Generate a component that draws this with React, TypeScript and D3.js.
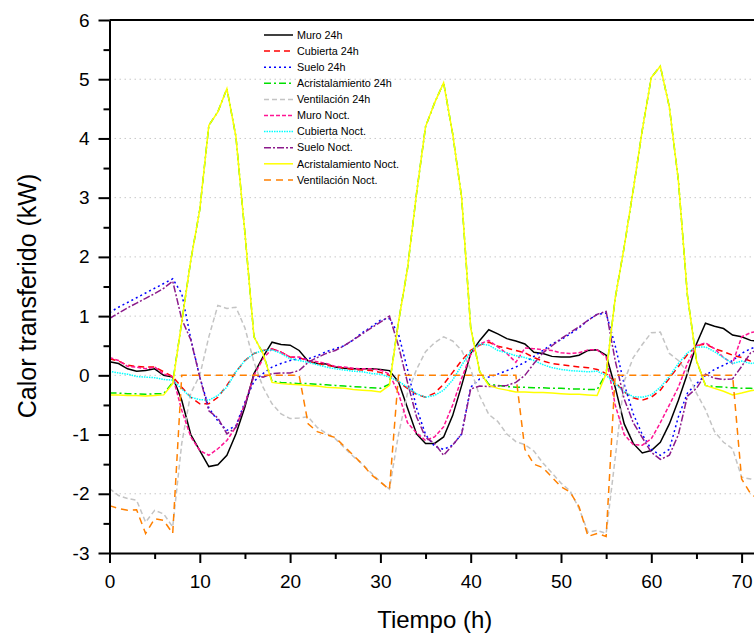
import { useEffect, useRef } from "react";
import * as d3 from "d3";

// hourly values (kW), h = 0..72
const muro24 = [0.23,0.2,0.11,0.07,0.08,0.11,0.0,-0.03,-0.42,-1.0,-1.27,-1.54,-1.51,-1.35,-0.99,-0.53,0.03,0.31,0.56,0.52,0.51,0.42,0.24,0.2,0.19,0.14,0.12,0.11,0.11,0.11,0.1,0.08,-0.11,-0.55,-0.99,-1.15,-1.15,-1.04,-0.68,-0.17,0.37,0.59,0.77,0.7,0.62,0.58,0.53,0.39,0.37,0.32,0.31,0.31,0.34,0.42,0.43,0.34,-0.2,-0.82,-1.15,-1.31,-1.27,-1.13,-0.82,-0.42,0.03,0.53,0.88,0.83,0.79,0.68,0.65,0.59,0.57];
const cubierta24 = [0.28,0.24,0.17,0.15,0.14,0.14,0.06,-0.02,-0.2,-0.37,-0.48,-0.48,-0.37,-0.17,0.06,0.25,0.37,0.42,0.45,0.39,0.31,0.3,0.24,0.2,0.17,0.15,0.12,0.1,0.09,0.08,0.05,0.0,-0.11,-0.22,-0.32,-0.37,-0.3,-0.15,0.05,0.25,0.42,0.51,0.56,0.49,0.46,0.42,0.38,0.3,0.24,0.2,0.18,0.16,0.14,0.13,0.1,0.03,-0.12,-0.28,-0.38,-0.42,-0.37,-0.25,-0.05,0.15,0.35,0.5,0.53,0.45,0.4,0.34,0.3,0.24,0.2];
const suelo24 = [1.06,1.15,1.23,1.31,1.39,1.47,1.55,1.63,1.38,0.62,-0.03,-0.55,-0.77,-0.93,-0.85,-0.45,-0.1,0.03,0.14,0.2,0.25,0.28,0.28,0.33,0.4,0.45,0.5,0.6,0.72,0.82,0.93,0.96,0.7,0.1,-0.55,-1.0,-1.2,-1.25,-1.18,-0.99,-0.2,-0.06,-0.03,0.02,0.08,0.14,0.22,0.32,0.42,0.53,0.6,0.7,0.8,0.93,1.03,1.05,0.5,-0.15,-0.65,-1.0,-1.25,-1.35,-1.25,-0.7,-0.3,-0.14,0.0,0.1,0.17,0.25,0.37,0.45,0.5];
const acrist24 = [-0.3,-0.3,-0.31,-0.31,-0.32,-0.31,-0.31,-0.12,0.9,1.94,2.8,4.22,4.45,4.84,4.03,2.4,0.65,0.37,-0.1,-0.12,-0.13,-0.14,-0.14,-0.15,-0.16,-0.17,-0.18,-0.19,-0.2,-0.21,-0.22,-0.15,0.9,1.8,3.07,4.2,4.6,4.94,4.08,3.0,0.8,0.06,-0.15,-0.17,-0.19,-0.2,-0.2,-0.21,-0.21,-0.22,-0.22,-0.23,-0.23,-0.24,-0.24,0.03,1.3,2.17,3.13,4.14,5.03,5.22,4.53,3.29,1.35,0.25,-0.17,-0.19,-0.2,-0.21,-0.22,-0.22,-0.23];
const vent24 = [-1.91,-2.03,-2.08,-2.11,-2.48,-2.28,-2.34,-2.56,-1.15,-0.3,0.0,0.65,1.18,1.13,1.15,0.8,0.22,-0.2,-0.48,-0.65,-0.73,-0.72,-0.7,-0.88,-0.98,-1.07,-1.22,-1.37,-1.5,-1.65,-1.8,-1.92,-1.0,-0.3,0.1,0.4,0.55,0.65,0.58,0.42,0.1,-0.35,-0.66,-0.78,-0.99,-1.12,-1.17,-1.28,-1.48,-1.65,-1.82,-1.95,-2.25,-2.65,-2.62,-2.67,-1.4,-0.1,0.3,0.52,0.72,0.73,0.37,0.25,0.05,-0.3,-0.58,-0.95,-1.13,-1.24,-1.72,-1.75,-1.78];
const muroNoct = [0.3,0.25,0.15,0.14,0.11,0.14,0.02,-0.02,-0.59,-1.04,-1.27,-1.35,-1.24,-1.1,-0.87,-0.48,0.0,0.28,0.45,0.39,0.31,0.31,0.25,0.23,0.2,0.15,0.14,0.12,0.11,0.11,0.09,0.02,-0.3,-0.8,-0.97,-1.1,-1.04,-0.87,-0.5,-0.05,0.35,0.53,0.59,0.48,0.37,0.22,0.46,0.45,0.43,0.42,0.38,0.37,0.38,0.43,0.43,0.31,-0.5,-1.0,-1.17,-1.18,-1.07,-0.8,-0.5,-0.2,0.2,0.5,0.55,0.45,0.3,0.2,0.65,0.72,0.75];
const cubiertaNoct = [0.07,0.04,0.02,-0.02,-0.03,-0.04,-0.07,-0.08,-0.23,-0.37,-0.41,-0.42,-0.34,-0.2,0.06,0.25,0.37,0.42,0.43,0.37,0.28,0.25,0.22,0.18,0.14,0.11,0.09,0.07,0.06,0.03,0.02,-0.03,-0.1,-0.2,-0.31,-0.37,-0.34,-0.25,-0.08,0.17,0.4,0.53,0.51,0.42,0.38,0.33,0.3,0.25,0.18,0.13,0.1,0.08,0.07,0.06,0.07,0.0,-0.14,-0.28,-0.36,-0.37,-0.33,-0.2,-0.02,0.2,0.38,0.48,0.48,0.4,0.3,0.2,0.24,0.2,0.22];
const sueloNoct = [0.96,1.05,1.14,1.22,1.3,1.38,1.47,1.59,0.95,0.6,-0.03,-0.6,-0.72,-0.99,-0.88,-0.5,0.0,-0.03,0.03,0.04,0.04,0.08,0.22,0.3,0.37,0.42,0.5,0.6,0.7,0.8,0.9,1.0,0.5,-0.12,-0.7,-1.05,-1.15,-1.35,-1.18,-0.99,-0.23,-0.18,-0.19,-0.18,-0.17,-0.12,0.0,0.2,0.38,0.5,0.62,0.72,0.82,0.93,1.03,1.08,0.25,-0.4,-0.8,-1.05,-1.3,-1.42,-1.35,-1.0,-0.35,-0.22,0.02,-0.05,-0.07,-0.06,0.15,0.38,0.45];
const acristNoct = [-0.33,-0.33,-0.34,-0.34,-0.35,-0.34,-0.33,-0.14,0.9,1.94,2.8,4.22,4.45,4.84,4.03,2.4,0.65,0.37,-0.12,-0.14,-0.15,-0.16,-0.17,-0.18,-0.2,-0.21,-0.22,-0.24,-0.25,-0.26,-0.28,-0.17,0.9,1.8,3.07,4.2,4.6,4.94,4.08,3.0,0.8,0.06,-0.17,-0.22,-0.25,-0.28,-0.28,-0.29,-0.29,-0.3,-0.31,-0.32,-0.32,-0.33,-0.34,0.03,1.3,2.17,3.13,4.14,5.03,5.22,4.53,3.29,1.35,0.25,-0.17,-0.22,-0.27,-0.33,-0.3,-0.26,-0.24];
const ventNoct = [-2.2,-2.25,-2.28,-2.27,-2.67,-2.42,-2.45,-2.67,0,0,0,0,0,0,0,0,0,0,0,0,0,0,-0.82,-0.95,-1.0,-1.05,-1.2,-1.35,-1.5,-1.68,-1.8,-1.93,0,0,0,0,0,0,0,0,0,0,0,0,0,0,-1.25,-1.5,-1.56,-1.72,-1.88,-1.97,-2.22,-2.72,-2.67,-2.72,0,0,0,0,0,0,0,0,0,0,0,0,0,0,-1.75,-2.0,-2.1];

const seriesNames = ["Muro 24h","Cubierta 24h","Suelo 24h","Acristalamiento 24h","Ventilación 24h","Muro Noct.","Cubierta Noct.","Suelo Noct.","Acristalamiento Noct.","Ventilación Noct."];
const seriesValues = [muro24, cubierta24, suelo24, acrist24, vent24, muroNoct, cubiertaNoct, sueloNoct, acristNoct, ventNoct];
const seriesColors = ["#000000","#ff0000","#0000ff","#00e000","#c4c4c4","#ff1493","#00ffff","#8b1a8b","#ffff00","#ff8000"];
const seriesDash = ["none","6,4","2,3","7,3,2,3","5,3","4,2","1.5,1","7,2,2,2","none","7,5"];

const xTicks = [0,10,20,30,40,50,60,70];
const yTicks = [-3,-2,-1,0,1,2,3,4,5,6];

export default function App() {
  const ref = useRef(null);
  useEffect(() => {
    const svg = d3.select(ref.current);
    svg.selectAll("*").remove();
    const left = 109.5, top = 20, bottom = 553;
    const font = "'Liberation Sans', Arial, sans-serif";
    const hours = muro24.map((_, i) => i);

    const x = d3.scaleLinear().domain([0, 72]).range([left, left + 72 * 9.03]);
    const y = d3.scaleLinear().domain([-3, 6]).range([bottom, top]);

    // dotted grid
    svg.append("g")
      .selectAll("line")
      .data(yTicks.filter((t) => t > -3 && t < 6))
      .join("line")
      .attr("x1", left).attr("x2", 754)
      .attr("y1", (d) => y(d)).attr("y2", (d) => y(d))
      .attr("stroke", "#c8c8c8")
      .attr("stroke-width", 1)
      .attr("stroke-dasharray", "1.5,3.5");

    const line = d3.line().x((d, i) => x(hours[i])).y((d) => y(d));
    svg.append("defs").append("clipPath").attr("id", "plotclip")
      .append("rect").attr("x", left).attr("y", top).attr("width", 760 - left).attr("height", bottom - top);
    const g = svg.append("g").attr("clip-path", "url(#plotclip)");
    seriesValues.forEach((vals, k) => {
      g.append("path")
        .datum(vals)
        .attr("fill", "none")
        .attr("stroke", seriesColors[k])
        .attr("stroke-width", 1.5)
        .attr("stroke-dasharray", seriesDash[k])
        .attr("d", line);
    });

    // axes: long ticks at labelled values, short ones between
    const xAxis = d3.axisBottom(x).tickValues(d3.range(0, 75, 5)).tickSizeOuter(0)
      .tickFormat((d) => (xTicks.includes(d) ? String(d) : ""));
    const gx = svg.append("g").attr("transform", `translate(0,${bottom})`).call(xAxis);
    const yAxis = d3.axisLeft(y).tickValues(d3.range(-3, 6.5, 0.5)).tickSizeOuter(0)
      .tickFormat((d) => (yTicks.includes(d) ? String(d) : ""));
    const gy = svg.append("g").attr("transform", `translate(${left},0)`).call(yAxis);
    [gx, gy].forEach((a) => {
      a.select(".domain").attr("stroke", "#000").attr("stroke-width", 2);
      a.selectAll(".tick line").attr("stroke", "#000").attr("stroke-width", 2);
      a.selectAll(".tick text").attr("fill", "#000").style("font-family", font).style("font-size", "19px");
    });
    gx.selectAll(".tick line").attr("y2", (d) => (xTicks.includes(d) ? 10 : 6));
    gy.selectAll(".tick line").attr("x2", (d) => (yTicks.includes(d) ? -11 : -6));
    gx.selectAll(".tick text").attr("dy", 0).attr("y", 35);
    gy.selectAll(".tick text").attr("x", -20);
    // top frame line
    svg.append("line").attr("x1", left).attr("x2", 760).attr("y1", top).attr("y2", top)
      .attr("stroke", "#000").attr("stroke-width", 2);

    svg.append("text")
      .attr("x", (left + 760) / 2).attr("y", 628)
      .attr("text-anchor", "middle")
      .style("font-family", font).style("font-size", "24px")
      .text("Tiempo (h)");
    svg.append("text")
      .attr("transform", `translate(36,296) rotate(-90)`)
      .attr("text-anchor", "middle")
      .style("font-family", font).style("font-size", "25px")
      .text("Calor transferido (kW)");

    // legend
    const lg = svg.append("g");
    seriesNames.forEach((name, k) => {
      const yy = 35 + k * 16.1;
      lg.append("line").attr("x1", 264).attr("x2", 293).attr("y1", yy).attr("y2", yy)
        .attr("stroke", seriesColors[k]).attr("stroke-width", 1.5)
        .attr("stroke-dasharray", seriesDash[k]);
      lg.append("text").attr("x", 297).attr("y", yy).attr("dy", "0.35em")
        .style("font-family", font).style("font-size", "10.8px").text(name);
    });
  });

  return (
    <svg ref={ref} width={754} height={638}
      style={{ position: "absolute", left: 0, top: 0, background: "#fff" }} />
  );
}
